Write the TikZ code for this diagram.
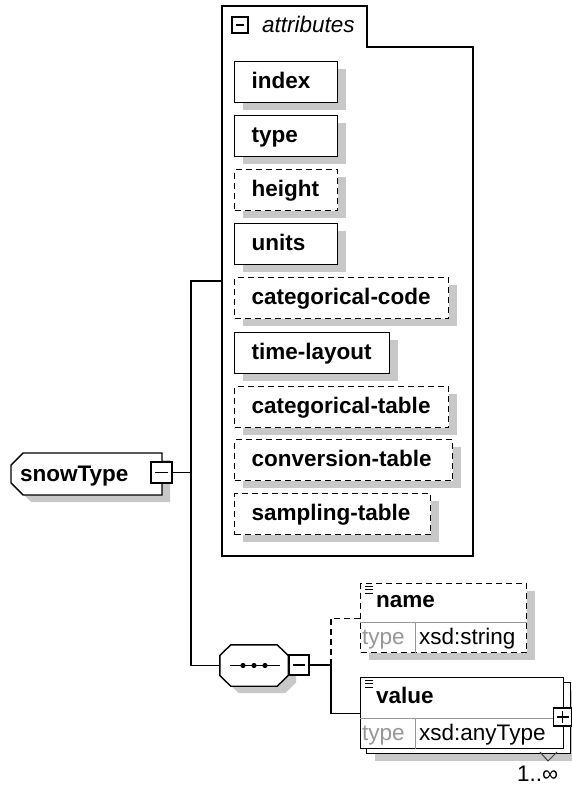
\documentclass[tikz,border=0pt]{standalone}
\usepackage{fontspec}
\setmainfont{Liberation Sans}
\usetikzlibrary{positioning,shapes.misc,shadows}
\definecolor{shadowgray}{RGB}{200,200,200}
\definecolor{cellgray}{RGB}{150,150,150}
\newcommand{\XSDFONT}{\fontsize{22.5}{26}\selectfont}

\begin{document}
\begin{tikzpicture}[
    x=1pt, y=-1pt,
    box/.style={draw, fill=white, line width=1.4pt},
    shade/.style={drop shadow={shadow xshift=8pt, shadow yshift=-7pt, fill=shadowgray, opacity=1}},
    attr/.style={box, shade, anchor=north west, minimum height=41pt, inner xsep=17pt, inner ysep=0pt,
        align=left, text height=15pt, text depth=2pt, font=\XSDFONT\bfseries},
    optional/.style={dash pattern=on 6pt off 4pt},
    elem/.style={box, anchor=north west, inner sep=0pt},
    caption/.style={anchor=base west, inner sep=0pt, font=\XSDFONT},
    cell/.style={cellgray, line width=1pt},
    conn/.style={line width=1.4pt},
    toggle/.style={draw, fill=white, line width=1.2pt, minimum size=#1, inner sep=0pt,
        path picture={\draw[line width=1.2pt] ([xshift=4pt]path picture bounding box.west)
            -- ([xshift=-4pt]path picture bounding box.east);}},
    expand/.style={draw, fill=white, line width=1.2pt, minimum size=#1, inner sep=0pt,
        path picture={\draw[line width=1.2pt] ([xshift=3pt]path picture bounding box.west)
            -- ([xshift=-3pt]path picture bounding box.east)
            ([yshift=3pt]path picture bounding box.south) -- ([yshift=-3pt]path picture bounding box.north);}}
]
\useasboundingbox (0,0) rectangle (572,786);

% Root element
\node[box, shade, chamfered rectangle, chamfered rectangle corners={north west,south west},
    chamfered rectangle xsep=9pt, minimum width=151pt, minimum height=42pt, inner sep=0pt,
    text width=133pt, align=left, text height=16pt, text depth=1pt, font=\XSDFONT\bfseries]
    (snowType) at (86.5,474) {snowType};
\node[toggle=21pt] (snowMinus) at (161.5,472.5) {};

% Attribute group
\draw[line width=1.4pt] (222,556) -- (222,6) -- (367,6) -- (367,47) -- (473,47) -- (473,556) -- cycle;
\node[toggle=16pt] (attrMinus) at (240,25) {};
\node[caption, font=\XSDFONT\itshape] (attrTitle) at (262,33) {attributes};
\coordinate (attrL) at (222,281);

\node[attr, text width=69pt] (index) at (234,61) {index};
\node[attr, text width=69pt] (type) at (234,115) {type};
\node[attr, optional, text width=69pt] (height) at (234,169) {height};
\node[attr, text width=69pt] (units) at (234,223) {units};
\node[attr, optional, text width=180pt] (catCode) at (234,277) {categorical-code};
\node[attr, text width=121pt] (timeLayout) at (234,332) {time-layout};
\node[attr, optional, text width=180pt] (catTable) at (234,386) {categorical-table};
\node[attr, optional, text width=184pt] (convTable) at (234,439) {conversion-table};
\node[attr, optional, text width=162pt] (sampTable) at (234,493) {sampling-table};

% Sequence compositor
\node[minimum width=68pt, minimum height=41pt, inner sep=0pt] (seq) at (254,665.5) {};
\draw[box, shade] ([yshift=10pt]seq.west) -- ([xshift=11pt]seq.north west) -- ([xshift=-11pt]seq.north east)
    -- ([yshift=10pt]seq.east) -- ([yshift=-10pt]seq.east) -- ([xshift=-11pt]seq.south east)
    -- ([xshift=11pt]seq.south west) -- ([yshift=-10pt]seq.west) -- cycle;
\draw[line width=1.2pt] ([xshift=-24pt]seq.center) -- ([xshift=26pt]seq.center);
\foreach \dx in {-11,0,11}
    \fill ([xshift=\dx pt]seq.center) circle (2.6pt);
\node[toggle=20pt] (seqMinus) at (299,665) {};
\coordinate (branch) at (331,665);

% Element name
\node[elem, shade, optional, minimum width=166pt, minimum height=69pt] (name) at (360,583) {};
\draw[cell] ([yshift=-39pt]name.north west) -- ([yshift=-39pt]name.north east);
\draw[cell] ([xshift=55pt,yshift=-39pt]name.north west) -- ([xshift=55pt]name.south west);
\foreach \dy in {3,6.5,10}
    \draw[line width=1pt] ([xshift=5pt,yshift=-\dy pt]name.north west) -- ++(8,0);
\node[caption, font=\XSDFONT\bfseries] (nameTitle) at (376,607) {name};
\node[caption, text=cellgray] (nameKey) at (362,644) {type};
\node[caption] (nameType) at (419,644) {xsd:string};

% Element value (repeating)
\node[elem, shade, minimum width=204pt, minimum height=71pt] (valueBack) at (366,682) {};
\node[elem, minimum width=203pt, minimum height=71pt] (value) at (360,677) {};
\draw[cell] ([yshift=-41pt]value.north west) -- ([yshift=-41pt]value.north east);
\draw[cell] ([xshift=55pt,yshift=-41pt]value.north west) -- ([xshift=55pt]value.south west);
\foreach \dy in {3,6.5,10}
    \draw[line width=1pt] ([xshift=5pt,yshift=-\dy pt]value.north west) -- ++(8,0);
\node[caption, font=\XSDFONT\bfseries] (valueTitle) at (376,703) {value};
\node[caption, text=cellgray] (valueKey) at (362,740) {type};
\node[caption] (valueType) at (419,740) {xsd:anyType};
\node[expand=18pt] (valuePlus) at (562.5,717) {};
\draw[line width=1pt, darkgray] (540,752) -- (548,761) -- (557,752);
\node[caption] (occurs) at (517,781) {1..∞};

% Connectors
\draw[conn] (snowMinus.east) -- (191,472.5) coordinate (trunk);
\draw[conn] (attrL) -| (trunk) |- (seq.west);
\draw[conn] (seqMinus.east) -- (branch);
\draw[conn, optional] (branch) |- (name.west);
\draw[conn] (branch) |- (value.west);

\end{tikzpicture}
\end{document}
